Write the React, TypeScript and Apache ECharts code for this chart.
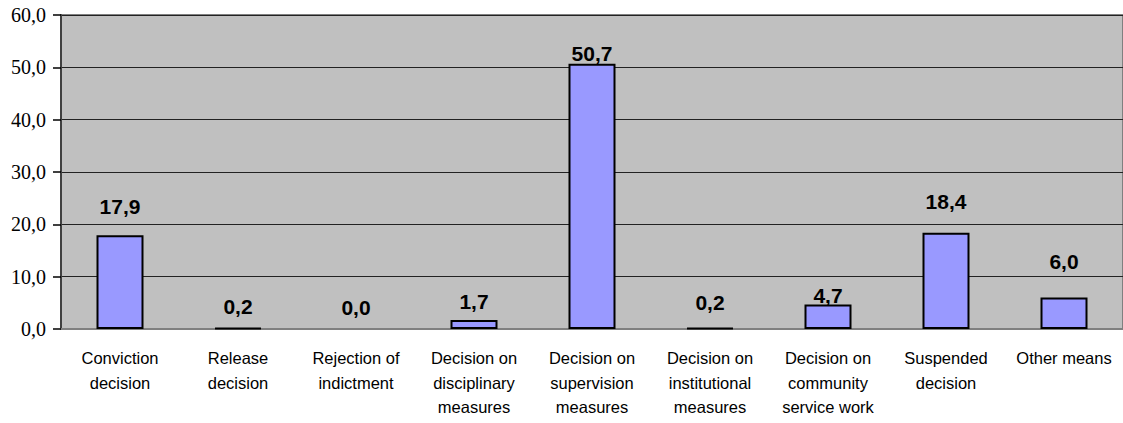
import React, { useEffect, useRef } from "react";
import * as echarts from "echarts";

const categories = [
  "Conviction\ndecision",
  "Release\ndecision",
  "Rejection of\nindictment",
  "Decision on\ndisciplinary\nmeasures",
  "Decision on\nsupervision\nmeasures",
  "Decision on\ninstitutional\nmeasures",
  "Decision on\ncommunity\nservice work",
  "Suspended\ndecision",
  "Other means",
];
const values = [17.9, 0.2, 0.0, 1.7, 50.7, 0.2, 4.7, 18.4, 6.0];
// label distance above each bar (as placed in the reference)
const labelDistances = [18, 10, 11, 8, 0, 14, -2, 21, 26];
const yTicks = { min: 0, max: 60, interval: 10 };

const fmt = (v: number) => v.toFixed(1).replace(".", ",");

const SANS = "'Liberation Sans', Arial, sans-serif";
const SERIF = "'Liberation Serif', 'Times New Roman', serif";

export default function App() {
  const ref = useRef<HTMLDivElement>(null);
  useEffect(() => {
    if (!ref.current) return;
    const chart = echarts.init(ref.current, null, { renderer: "svg" });
    chart.setOption({
      animation: false,
      backgroundColor: "#ffffff",
      grid: {
        left: 61,
        right: 0,
        top: 15,
        bottom: 94,
        show: true,
        backgroundColor: "#c0c0c0",
        borderColor: "#808080",
        borderWidth: 2,
      },
      xAxis: {
        type: "category",
        data: categories,
        axisLine: { show: true, lineStyle: { color: "#808080", width: 2 } },
        axisTick: { show: false },
        axisLabel: {
          interval: 0,
          margin: 17,
          color: "#000",
          fontFamily: SANS,
          fontSize: 16.5,
          lineHeight: 24.5,
        },
      },
      yAxis: {
        type: "value",
        min: yTicks.min,
        max: yTicks.max,
        interval: yTicks.interval,
        axisLine: { show: true, lineStyle: { color: "#404040", width: 2 } },
        axisTick: { show: true, length: 8, lineStyle: { color: "#000", width: 1.5 } },
        splitLine: { show: true, lineStyle: { color: "#222", width: 1.2 } },
        axisLabel: {
          margin: 15,
          color: "#000",
          fontFamily: SERIF,
          fontSize: 20,
          formatter: (v: number) => fmt(v),
        },
      },
      series: [
        {
          type: "bar",
          barWidth: 47,
          data: values.map((v, i) => ({
            value: v,
            itemStyle: {
              color: "#9999ff",
              borderColor: "#000",
              borderWidth: v === 0 ? 0 : 2,
            },
            label: { distance: labelDistances[i] },
          })),
          label: {
            show: true,
            position: "top",
            color: "#000",
            fontFamily: SANS,
            fontWeight: "bold",
            fontSize: 21,
            formatter: (p: any) => fmt(p.value),
          },
        },
      ],
    });
    return () => chart.dispose();
  }, []);
  return (
    <div
      ref={ref}
      style={{ position: "absolute", left: 0, top: 0, width: 1123, height: 423, background: "#fff" }}
    />
  );
}
